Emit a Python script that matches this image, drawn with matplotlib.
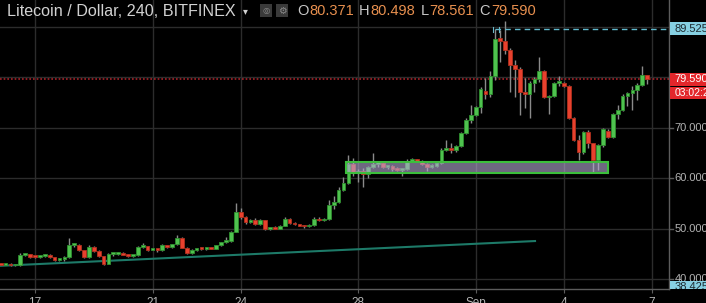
import matplotlib
matplotlib.use('Agg')
import matplotlib.pyplot as plt
from matplotlib.patches import Rectangle

W, H, DPI = 706, 303, 100
FONT = ['Liberation Sans', 'DejaVu Sans']
plt.rcParams['font.family'] = FONT

# ---------------- data (4h candles, Aug 15 20:00 .. Sep 6 20:00) ----------------
first_candle_day = 15 + 5 / 6   # day-of-August of first candle
candle_step = 1 / 6             # 4 hours

opens = [43.0, 42.9, 43.1, 42.8, 42.9, 44.9, 45.0, 44.5, 44.4, 44.7,
         44.8, 44.4, 43.8, 44.0, 44.5, 46.8, 46.9, 45.8, 44.4, 46.5,
         45.6, 44.6, 43.1, 45.0, 45.1, 45.3, 44.9, 44.6, 44.8, 46.5,
         46.6, 45.9, 46.0, 45.8, 46.8, 46.4, 47.0, 48.2, 46.3, 45.2,
         45.8, 46.1, 46.0, 46.3, 46.1, 46.8, 47.4, 47.6, 49.4, 53.4,
         52.3, 51.3, 51.8, 50.9, 51.7, 50.0, 50.2, 50.0, 50.6, 52.0,
         51.1, 50.9, 50.6, 50.5, 50.7, 52.0, 51.7, 51.9, 54.7, 55.4,
         57.7, 59.1, 62.8, 61.0, 61.5, 60.9, 62.3, 62.8, 63.0, 62.2,
         62.4, 61.8, 61.7, 61.8, 63.5, 63.7, 63.5, 62.8, 62.3, 62.5,
         63.0, 65.6, 65.9, 65.6, 66.4, 69.0, 71.5, 72.6, 74.1, 77.3,
         76.7, 80.2, 87.7, 87.2, 85.4, 82.4, 81.7, 77.1, 76.6, 78.8,
         79.6, 81.3, 76.0, 76.3, 78.8, 78.9, 78.3, 71.9, 67.6, 65.1,
         69.2, 66.9, 63.6, 66.5, 69.4, 68.1, 72.8, 73.5, 76.3, 76.8,
         77.5, 78.4, 80.371]
highs = [43.2, 43.3, 43.2, 43.0, 45.2, 45.2, 45.1, 44.7, 44.8, 45.0,
         45.1, 44.5, 44.2, 44.6, 48.2, 47.2, 47.0, 45.9, 46.8, 46.7,
         45.8, 44.7, 45.2, 45.3, 45.5, 45.4, 45.1, 44.9, 46.7, 47.3,
         46.7, 46.2, 46.1, 47.0, 46.9, 47.1, 48.8, 48.3, 46.4, 46.0,
         46.3, 46.5, 46.5, 46.4, 46.9, 47.5, 48.3, 49.6, 55.1, 54.2,
         52.5, 52.0, 52.2, 51.9, 51.8, 50.4, 50.5, 50.8, 52.3, 52.2,
         51.3, 51.0, 50.8, 50.9, 52.3, 52.3, 52.1, 55.8, 56.5, 58.2,
         60.3, 64.6, 64.0, 61.8, 62.1, 62.5, 65.0, 63.4, 63.5, 62.6,
         62.6, 62.2, 62.0, 63.8, 64.0, 63.9, 63.6, 63.0, 62.9, 63.3,
         66.0, 67.6, 67.0, 66.6, 69.2, 72.0, 74.5, 74.3, 78.0, 79.8,
         81.3, 89.525, 89.3, 91.0, 85.8, 83.4, 82.0, 79.8, 79.2, 80.0,
         84.0, 81.5, 76.5, 79.0, 80.2, 79.0, 78.5, 72.2, 68.6, 69.4,
         69.5, 67.0, 66.8, 70.0, 69.8, 73.0, 74.5, 76.6, 77.0, 78.3,
         78.8, 82.1, 80.498]
lows = [42.8, 42.8, 42.6, 42.6, 42.6, 44.6, 44.3, 44.2, 44.3, 44.4,
        44.3, 43.6, 43.6, 43.7, 44.3, 46.5, 45.6, 44.2, 44.2, 45.4,
        44.4, 42.9, 43.0, 44.7, 44.8, 44.8, 44.4, 44.5, 44.7, 46.3,
        45.7, 45.8, 45.5, 45.7, 46.3, 46.3, 46.9, 46.2, 45.0, 45.0,
        45.7, 45.9, 45.9, 46.0, 46.0, 46.7, 47.3, 47.5, 49.3, 52.0,
        51.0, 51.1, 50.7, 50.7, 49.8, 49.8, 49.9, 49.9, 50.5, 50.9,
        50.8, 50.5, 50.2, 50.4, 50.6, 51.5, 51.5, 51.8, 54.0, 55.2,
        57.5, 58.9, 60.5, 59.3, 58.3, 60.1, 62.0, 62.3, 62.0, 61.9,
        61.5, 61.5, 60.5, 61.6, 63.2, 63.3, 62.6, 61.5, 62.1, 62.2,
        62.9, 65.3, 65.0, 65.2, 66.2, 68.8, 71.0, 72.4, 73.0, 75.6,
        76.0, 79.5, 83.0, 84.5, 77.1, 76.1, 72.5, 73.8, 71.9, 77.0,
        79.0, 75.8, 72.8, 76.0, 78.2, 78.0, 71.7, 67.3, 63.6, 64.8,
        66.0, 61.3, 61.6, 66.2, 67.9, 67.9, 71.8, 73.3, 74.3, 73.5,
        75.5, 78.2, 78.561]
closes = [42.9, 43.1, 42.8, 42.9, 44.9, 45.0, 44.5, 44.4, 44.7, 44.8,
          44.4, 43.8, 44.0, 44.5, 46.8, 46.9, 45.8, 44.4, 46.5, 45.6,
          44.6, 43.1, 45.0, 45.1, 45.3, 44.9, 44.6, 44.8, 46.5, 46.6,
          45.9, 46.0, 45.8, 46.8, 46.4, 47.0, 48.2, 46.3, 45.2, 45.8,
          46.1, 46.0, 46.3, 46.1, 46.8, 47.4, 47.6, 49.4, 53.4, 52.3,
          51.3, 51.8, 50.9, 51.7, 50.0, 50.2, 50.0, 50.6, 52.0, 51.1,
          50.9, 50.6, 50.5, 50.7, 52.0, 51.7, 51.9, 54.7, 55.4, 57.7,
          59.1, 62.8, 61.0, 61.5, 60.9, 62.3, 62.8, 63.0, 62.2, 62.4,
          61.8, 61.7, 61.8, 63.5, 63.7, 63.5, 62.8, 62.3, 62.5, 63.0,
          65.6, 65.8, 65.6, 66.4, 69.0, 71.5, 72.6, 74.1, 77.6, 76.7,
          80.2, 87.5, 87.2, 85.4, 82.4, 81.7, 77.1, 76.6, 78.8, 79.6,
          81.3, 76.0, 76.3, 78.8, 78.9, 78.3, 71.9, 67.6, 65.1, 69.2,
          66.9, 63.6, 66.5, 69.7, 68.1, 72.8, 73.5, 76.3, 76.8, 77.5,
          78.4, 80.4, 79.590]

tick_days = [17, 21, 24, 28, 32, 35, 38]
tick_labels = ['17', '21', '24', '28', 'Sep', '4', '7']
price_levels = [40, 50, 60, 70, 80, 90]
price_labels = ['40.000', '50.000', '60.000', '70.000', '', '']

zone_days = [27.58, 36.52]
zone_prices = [61.05, 63.28]
trend_days = [15.81, 34.02]
trend_prices = [42.7, 47.6]
last_price = 79.590
high_line_price = 89.525
high_line_start = 32.66
low_line_price = 38.425
countdown = '03:02:23'
title = 'Litecoin / Dollar, 240, BITFINEX'
ohlc_title = [('O', '80.371'), ('H', '80.498'), ('L', '78.561'), ('C', '79.590')]

# ---------------- figure ----------------
fig = plt.figure(figsize=(W / DPI, H / DPI), dpi=DPI, facecolor='black')
axb = 14.3 / H
axh = 288.7 / H
axw = 669 / W
ax = fig.add_axes([0, axb, axw, axh], facecolor='black')
xmin, xmax = 15.809, 38.58
ymin, ymax = 38.18, 95.24
ax.set_xlim(xmin, xmax)
ax.set_ylim(ymin, ymax)

grid_c = '#2c2c2c'
axis_c = '#5c5c5c'
text_c = '#b4b4b4'

ax.set_xticks(tick_days)
ax.set_xticklabels(tick_labels)
ax.set_yticks(price_levels)
ax.tick_params(axis='y', left=False, right=False, labelleft=False)
ax.tick_params(axis='x', colors=axis_c, labelcolor=text_c, length=3, labelsize=8.5, pad=3)
ax.grid(True, color=grid_c, lw=1, zorder=0)
ax.set_axisbelow(True)
for s in ['top', 'left']:
    ax.spines[s].set_visible(False)
for s in ['right', 'bottom']:
    ax.spines[s].set_color(axis_c)
    ax.spines[s].set_linewidth(1)

# trend line
ax.plot(trend_days, trend_prices, color='#1d7a68', lw=1.5, zorder=1.5)

# current price dotted line
ax.axhline(last_price, color='#a8232a', ls=(0, (1, 1.2)), lw=1.2, zorder=1.2)

# candles
bw = 0.76 * candle_step
up_fill, up_edge = '#4fc24f', '#2f8f2f'
dn_fill, dn_edge = '#e8412e', '#b0301e'
for i, (o, h, l, c) in enumerate(zip(opens, highs, lows, closes)):
    t = first_candle_day + i * candle_step
    ax.plot([t, t], [l, h], color='#8a8a8a', lw=1, zorder=2, solid_capstyle='butt')
    bot = min(o, c)
    hgt = max(abs(c - o), 0.35)
    if c >= o:
        fc, ec = up_fill, up_edge
    else:
        fc, ec = dn_fill, dn_edge
    ax.add_patch(Rectangle((t - bw / 2, bot), bw, hgt, facecolor=fc,
                           edgecolor=ec, lw=0.6, zorder=2.5))

# zone box
ax.add_patch(Rectangle((zone_days[0], zone_prices[0]), zone_days[1] - zone_days[0],
                       zone_prices[1] - zone_prices[0], facecolor=(0.70, 0.66, 0.82),
                       alpha=0.62, edgecolor='none', zorder=3))
ax.add_patch(Rectangle((zone_days[0], zone_prices[0]), zone_days[1] - zone_days[0],
                       zone_prices[1] - zone_prices[0], facecolor='none',
                       edgecolor='#3cbf3c', lw=1.5, zorder=3.1))

# high dashed line
ax.plot([high_line_start, xmax], [high_line_price, high_line_price], color='#5fb8cc',
        ls=(0, (4, 3)), lw=1, zorder=3)
for dx in (-0.08, 0.13):
    ax.plot([high_line_start + dx] * 2, [high_line_price - 0.6, high_line_price + 0.4],
            color='#6ab8c8', lw=0.8, zorder=3)

# ---------------- price scale panel ----------------
pax = fig.add_axes([axw, axb, 1 - axw, axh], facecolor='black')
pax.set_xlim(0, 1)
pax.set_ylim(ymin, ymax)
pax.axis('off')
for p, lab in zip(price_levels, price_labels):
    if lab:
        pax.plot([0, 0.1], [p, p], color=axis_c, lw=1, clip_on=True)
        pax.text(0.15, p, lab, color=text_c, fontsize=8, va='center', ha='left', clip_on=True)


def price_tag(y0, y1, ycenter, txt, bg, fg, fs=8):
    pax.add_patch(Rectangle((0.02, y0), 1, y1 - y0, facecolor=bg, edgecolor='none',
                            zorder=5, clip_on=True))
    pax.text(0.15, ycenter, txt, color=fg, fontsize=fs, va='center', ha='left',
             zorder=6, clip_on=True)


price_tag(high_line_price - 1.3, high_line_price + 1.3, high_line_price, '%.3f' % high_line_price,
          '#86d0e2', '#1c2a30')
price_tag(last_price - 1.3, last_price + 1.3, last_price, '%.3f' % last_price, '#e3262b', 'white')
price_tag(75.66, 78.03, 76.85, countdown, '#e3262b', 'white', fs=7.5)
price_tag(low_line_price - 1.3, low_line_price + 1.3, low_line_price, '%.3f' % low_line_price,
          '#86d0e2', '#1c2a30')


# ---------------- header ----------------
def px(x, y):
    return x / W, 1 - y / H


fig.text(*px(7, 11), title, color='#d2d2d2', fontsize=11.6, va='center', ha='left')
fig.text(*px(243, 11), '\u25BE', color='#d2d2d2', fontsize=7, va='center', ha='left',
         family='DejaVu Sans')
for x0 in (260, 276):
    fig.patches.append(Rectangle(px(x0, 17), 12 / W, 13 / H, transform=fig.transFigure,
                                 facecolor='#3a3a3a', edgecolor='none'))
fig.text(*px(266, 11), '\u25CE', color='#8a8a8a', fontsize=6, va='center', ha='center',
         family='DejaVu Sans')
fig.text(*px(282, 11), '\u2699', color='#8a8a8a', fontsize=7, va='center', ha='center',
         family='DejaVu Sans')

fig.canvas.draw()
rend = fig.canvas.get_renderer()
xcur = 297
for lbl, val in ohlc_title:
    t1 = fig.text(*px(xcur, 11), lbl, color='#c8c8c8', fontsize=10.5, va='center', ha='left')
    w1 = t1.get_window_extent(rend).width
    t2 = fig.text(*px(xcur + w1 + 1, 11), val, color='#e8904f', fontsize=10.5, va='center',
                  ha='left')
    w2 = t2.get_window_extent(rend).width
    xcur = xcur + w1 + 1 + w2 + 5

fig.savefig('out.png', dpi=DPI, facecolor='black')
